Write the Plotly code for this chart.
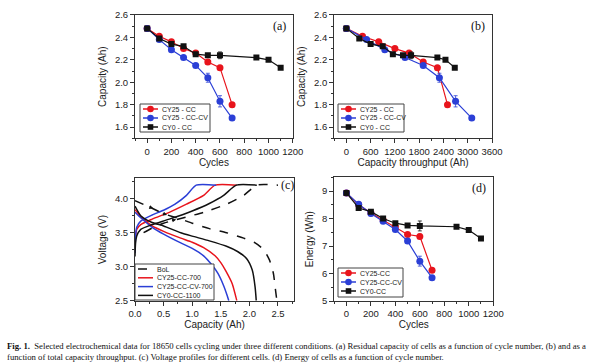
import plotly.graph_objects as go

# ---------------- data ----------------
# (a) capacity vs cycles
cyc_cc = [0, 100, 200, 300, 400, 500, 600, 700]
cap_cc = [2.48, 2.41, 2.36, 2.30, 2.26, 2.18, 2.13, 1.80]
cap_cc_err = [0, 0, 0, 0.01, 0, 0.01, 0.01, 0]
cyc_cccv = [0, 100, 200, 300, 400, 500, 600, 700]
cap_cccv = [2.48, 2.38, 2.29, 2.22, 2.15, 2.04, 1.83, 1.68]
cap_cccv_err = [0, 0, 0, 0, 0, 0.04, 0.05, 0.01]
cyc_cy0 = [0, 100, 200, 300, 400, 500, 600, 900, 1000, 1100]
cap_cy0 = [2.48, 2.39, 2.34, 2.32, 2.25, 2.24, 2.24, 2.22, 2.20, 2.13]
cap_cy0_err = [0, 0, 0, 0, 0, 0, 0.03, 0, 0, 0]

# (b) capacity vs throughput
thr_cc = [0, 400, 800, 1200, 1550, 1900, 2250, 2500]
thr_cccv = [0, 500, 950, 1450, 1900, 2300, 2700, 3100]
thr_cy0 = [0, 320, 600, 900, 1150, 1400, 1600, 2250, 2450, 2680]

# (c) voltage profiles
bol_dis_q = [0, 0.3, 0.5, 0.8, 1.0, 1.3, 1.6, 1.9, 2.1, 2.25, 2.35, 2.42, 2.45, 2.48]
bol_dis_v = [3.97, 3.86, 3.78, 3.70, 3.64, 3.56, 3.50, 3.42, 3.35, 3.25, 3.10, 2.90, 2.70, 2.50]
bol_chg_q = [0.15, 0.3, 0.5, 0.8, 1.2, 1.6, 1.9, 2.13, 2.5]
bol_chg_v = [3.50, 3.57, 3.64, 3.71, 3.80, 3.92, 4.05, 4.20, 4.20]

cc_dis_q = [0, 0.1, 0.3, 0.5, 0.8, 1.0, 1.2, 1.4, 1.5, 1.58, 1.7, 1.75, 1.78]
cc_dis_v = [3.84, 3.74, 3.60, 3.52, 3.42, 3.36, 3.28, 3.16, 3.06, 2.95, 2.75, 2.60, 2.50]
cc_chg_q = [0, 0.01, 0.03, 0.1, 0.3, 0.6, 0.9, 1.2, 1.40, 1.78]
cc_chg_v = [3.30, 3.45, 3.55, 3.62, 3.70, 3.80, 3.92, 4.05, 4.20, 4.20]

cccv_dis_q = [0, 0.1, 0.3, 0.5, 0.8, 1.0, 1.2, 1.35, 1.45, 1.55, 1.61, 1.64]
cccv_dis_v = [3.80, 3.72, 3.58, 3.48, 3.35, 3.27, 3.16, 3.02, 2.90, 2.72, 2.58, 2.50]
cccv_chg_q = [0, 0.01, 0.03, 0.1, 0.3, 0.5, 0.7, 0.9, 1.07, 1.42]
cccv_chg_v = [3.20, 3.45, 3.58, 3.67, 3.76, 3.83, 3.92, 4.05, 4.20, 4.20]

cy0_dis_q = [0, 0.1, 0.3, 0.5, 0.8, 1.0, 1.3, 1.6, 1.8, 1.95, 2.05, 2.10, 2.12]
cy0_dis_v = [3.89, 3.75, 3.65, 3.60, 3.50, 3.45, 3.38, 3.30, 3.22, 3.12, 2.95, 2.70, 2.50]
cy0_chg_q = [0, 0.01, 0.03, 0.1, 0.3, 0.6, 1.0, 1.3, 1.55, 1.77, 2.13]
cy0_chg_v = [3.15, 3.35, 3.45, 3.55, 3.62, 3.70, 3.82, 3.93, 4.05, 4.20, 4.20]

# (d) energy vs cycles
en_cc = [8.93, 8.50, 8.20, 7.95, 7.70, 7.42, 7.35, 6.12]
en_cc_err = [0, 0, 0, 0, 0, 0.05, 0.08, 0.05]
en_cccv = [8.93, 8.52, 8.18, 7.90, 7.60, 7.18, 6.45, 5.85]
en_cccv_err = [0, 0, 0, 0, 0, 0.08, 0.18, 0.05]
en_cy0 = [8.93, 8.38, 8.25, 8.00, 7.83, 7.75, 7.73, 7.70, 7.58, 7.27]
en_cy0_err = [0, 0, 0, 0, 0, 0, 0.18, 0, 0, 0]

legend_ab = ["CY25 - CC", "CY25 - CC-CV", "CY0 - CC"]
legend_c = ["BoL", "CY25-CC-700", "CY25-CC-CV-700", "CY0-CC-1100"]
legend_d = ["CY25-CC", "CY25-CC-CV", "CY0-CC"]

RED = "#e8141c"
BLUE = "#2b3fd6"
BLACK = "#111111"
W, H = 600, 364

fig = go.Figure()


def marker_trace(x, y, err, name, color, symbol, xa, ya):
    return go.Scatter(
        x=x, y=y, name=name, mode="lines+markers", showlegend=False,
        line=dict(color=color, width=1.2),
        marker=dict(color=color, symbol=symbol, size=7 if symbol == "circle" else 6,
                    line=dict(width=0)),
        error_y=dict(type="data", array=err, color=color, thickness=0.8, width=2),
        xaxis=xa, yaxis=ya,
    )


# (a)
fig.add_trace(marker_trace(cyc_cc, cap_cc, cap_cc_err, legend_ab[0], RED, "circle", "x", "y"))
fig.add_trace(marker_trace(cyc_cccv, cap_cccv, cap_cccv_err, legend_ab[1], BLUE, "circle", "x", "y"))
fig.add_trace(marker_trace(cyc_cy0, cap_cy0, cap_cy0_err, legend_ab[2], BLACK, "square", "x", "y"))
# (b)
fig.add_trace(marker_trace(thr_cc, cap_cc, cap_cc_err, legend_ab[0], RED, "circle", "x2", "y2"))
fig.add_trace(marker_trace(thr_cccv, cap_cccv, cap_cccv_err, legend_ab[1], BLUE, "circle", "x2", "y2"))
fig.add_trace(marker_trace(thr_cy0, cap_cy0, cap_cy0_err, legend_ab[2], BLACK, "square", "x2", "y2"))


# (c)
def prof(dq, dv, cq, cv, name, color, dash):
    fig.add_trace(go.Scatter(
        x=dq + [None] + cq, y=dv + [None] + cv, name=name, mode="lines", showlegend=False,
        line=dict(color=color, width=1.5, dash=dash, shape="spline", smoothing=0.6),
        xaxis="x3", yaxis="y3"))


prof(bol_dis_q, bol_dis_v, bol_chg_q, bol_chg_v, legend_c[0], BLACK, "dash")
prof(cc_dis_q, cc_dis_v, cc_chg_q, cc_chg_v, legend_c[1], RED, "solid")
prof(cccv_dis_q, cccv_dis_v, cccv_chg_q, cccv_chg_v, legend_c[2], BLUE, "solid")
prof(cy0_dis_q, cy0_dis_v, cy0_chg_q, cy0_chg_v, legend_c[3], BLACK, "solid")

# (d)
fig.add_trace(marker_trace(cyc_cc, en_cc, en_cc_err, legend_d[0], RED, "circle", "x4", "y4"))
fig.add_trace(marker_trace(cyc_cccv, en_cccv, en_cccv_err, legend_d[1], BLUE, "circle", "x4", "y4"))
fig.add_trace(marker_trace(cyc_cy0, en_cy0, en_cy0_err, legend_d[2], BLACK, "square", "x4", "y4"))

TICKF = dict(family="Liberation Sans, Arial, sans-serif", size=9.5, color="#222")
TITLEF = dict(family="Liberation Sans, Arial, sans-serif", size=10, color="#222")


def ax(domain, rng, dtick, minor, title, anchor, standoff):
    return dict(domain=domain, range=rng, dtick=dtick, tick0=0, anchor=anchor,
                automargin=False,
                showgrid=False, zeroline=False, showline=True, linecolor="#333",
                linewidth=1, mirror=True, ticks="outside", ticklen=4, tickwidth=1,
                tickcolor="#333", tickfont=TICKF,
                minor=dict(dtick=minor, ticks="outside", ticklen=2, tickcolor="#333"),
                title=dict(text=title, font=TITLEF, standoff=standoff))


fig.update_layout(
    width=W, height=H, margin=dict(l=0, r=0, t=0, b=0, autoexpand=False),
    paper_bgcolor="white", plot_bgcolor="white", showlegend=False,
    xaxis=ax([0.225, 0.488], [-100, 1200], 200, 100, "Cycles", "y", 2),
    yaxis=ax([0.620, 0.959], [1.5, 2.6], 0.2, 0.1, "Capacity (Ah)", "x", 6),
    xaxis2=ax([0.557, 0.820], [-300, 3600], 600, 300, "Capacity throughput (Ah)", "y2", 2),
    yaxis2=ax([0.620, 0.959], [1.5, 2.6], 0.2, 0.1, "Capacity (Ah)", "x2", 6),
    xaxis3=ax([0.225, 0.490], [0, 2.78], 0.5, 0.25, "Capacity (Ah)", "y3", 2),
    yaxis3=ax([0.174, 0.510], [2.5, 4.3], 0.5, 0.25, "Voltage (V)", "x3", 6),
    xaxis4=ax([0.557, 0.822], [-100, 1200], 200, 100, "Cycles", "y4", 2),
    yaxis4=ax([0.173, 0.513], [5, 9.5], 1, 0.5, "Energy (Wh)", "x4", 6),
)
for a in ["xaxis3", "yaxis3", "yaxis", "yaxis2"]:
    fig.layout[a].tickformat = ".1f"

LEGF = dict(family="Liberation Sans, Arial, sans-serif", size=7, color="#222")


def px(x):
    return x / W


def py(y):
    return 1 - y / H


def draw_legend(box, rows, labels, styles):
    x0, y0, x1, y1 = box
    fig.add_shape(type="rect", xref="paper", yref="paper", x0=px(x0), x1=px(x1),
                  y0=py(y0), y1=py(y1), line=dict(color="#444", width=1), fillcolor="white")
    for yy, lab, (color, sym, dash) in zip(rows, labels, styles):
        fig.add_shape(type="line", xref="paper", yref="paper", x0=px(x0 + 3), x1=px(x0 + 18),
                      y0=py(yy), y1=py(yy), line=dict(color=color, width=1.5, dash=dash))
        cx = x0 + 10.5
        if sym == "circle":
            fig.add_shape(type="circle", xref="paper", yref="paper", x0=px(cx - 3.3), x1=px(cx + 3.3),
                          y0=py(yy + 3.3), y1=py(yy - 3.3), line=dict(width=0), fillcolor=color)
        elif sym == "square":
            fig.add_shape(type="rect", xref="paper", yref="paper", x0=px(cx - 2.8), x1=px(cx + 2.8),
                          y0=py(yy + 2.8), y1=py(yy - 2.8), line=dict(width=0), fillcolor=color)
        fig.add_annotation(text=lab, xref="paper", yref="paper", x=px(x0 + 20.5), y=py(yy),
                           xanchor="left", yanchor="middle", showarrow=False, font=LEGF,
                           borderpad=0)


sty_ab = [(RED, "circle", "solid"), (BLUE, "circle", "solid"), (BLACK, "square", "solid")]
draw_legend((140, 104, 210, 132), [109, 118, 127], legend_ab, sty_ab)
draw_legend((338, 104, 404, 132), [109, 118, 127], legend_ab, sty_ab)
draw_legend((135, 264, 214, 300), [269, 277.8, 286.6, 295.4], legend_c,
            [(BLACK, None, "dash"), (RED, None, "solid"), (BLUE, None, "solid"), (BLACK, None, "solid")])
draw_legend((338, 268, 403, 297), [273, 282, 291], legend_d, sty_ab)

SERIF = "Liberation Serif, Times New Roman, serif"
for txt, xr, yr in [("(a)", "x domain", "y domain"),
                    ("(b)", "x2 domain", "y2 domain"),
                    ("(d)", "x4 domain", "y4 domain")]:
    fig.add_annotation(text=txt, xref=xr, yref=yr, x=0.97, y=0.985, showarrow=False,
                       xanchor="right", yanchor="top",
                       font=dict(family=SERIF, size=12, color="#111"))
fig.add_annotation(text="(c)", xref="x3", yref="y3", x=2.52, y=4.2, showarrow=False,
                   xanchor="left", yanchor="middle",
                   font=dict(family=SERIF, size=12, color="#111"))

# direction arrows in (c)
for (x0, y0, x1, y1) in [(0.22, 3.89, 0.32, 3.855), (0.46, 3.79, 0.56, 3.76), (0.62, 3.675, 0.72, 3.695)]:
    fig.add_annotation(xref="x3", yref="y3", axref="x3", ayref="y3", x=x1, y=y1, ax=x0, ay=y0,
                       showarrow=True, arrowhead=2, arrowsize=0.8, arrowwidth=1, arrowcolor="#111", text="")

caption = ("<b>Fig. 1.</b>  Selected electrochemical data for 18650 cells cycling under three different conditions. "
           "(a) Residual capacity of cells as a function of cycle number, (b) and as a<br>"
           "function of total capacity throughput. (c) Voltage profiles for different cells. "
           "(d) Energy of cells as a function of cycle number.")
fig.add_annotation(text=caption, xref="paper", yref="paper", x=0.008, y=py(338.5),
                   xanchor="left", yanchor="top", align="left", showarrow=False,
                   font=dict(family=SERIF, size=8.7, color="#111"))

fig.write_html("out.html", config={"displayModeBar": False},
               post_script="document.body.style.margin='0';document.body.style.overflow='hidden';")
